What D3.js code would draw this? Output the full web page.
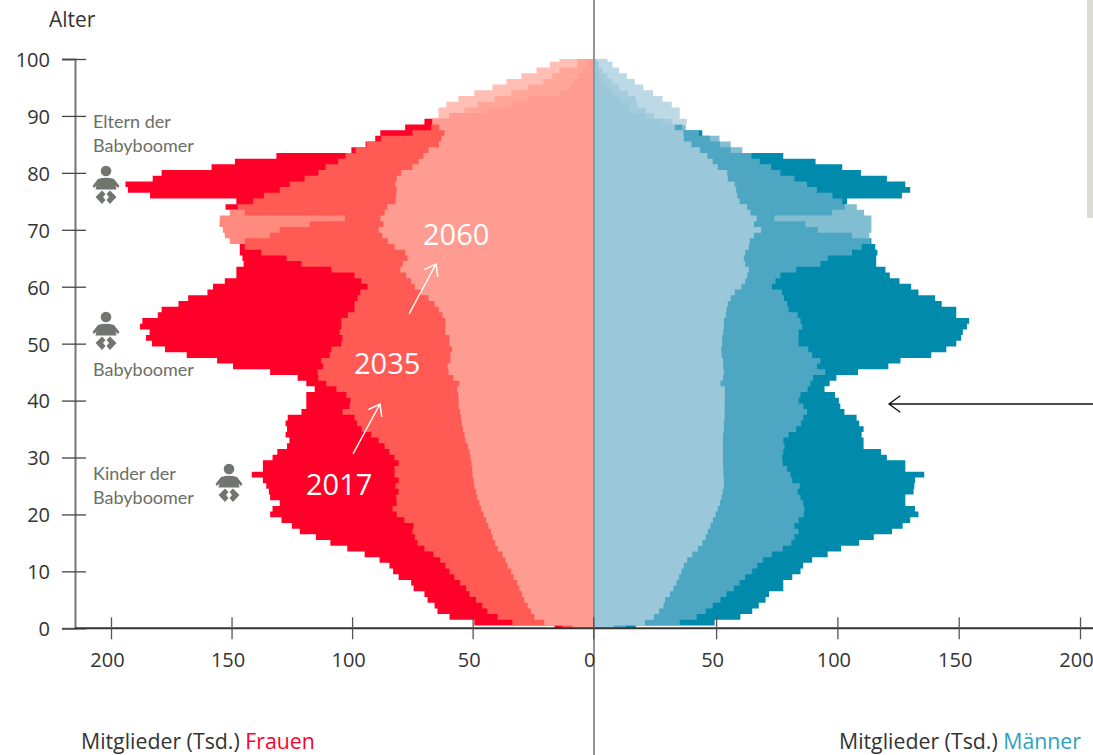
<!DOCTYPE html>
<html lang="de">
<head>
    <meta charset="UTF-8">
    <title>Alterspyramide Mitglieder</title>
<script src="https://d3js.org/d3.v7.min.js"></script>
    <style>
        body{
            margin: 0;
            background: #fff;
            overflow: hidden;
        }
        svg{
            display: block;
        }
        text{
            font-family: "Open Sans", sans-serif;
        }
        .axis text{
            font-size: 20px;
            fill: #333;
            stroke: none;
        }
        .note{
            font-family: Lato, sans-serif;
            font-size: 18px;
            fill: #6c6e66;
        }
        .year{
            font-size: 29px;
            fill: #fff;
        }
        .footer{
            font-size: 21.3px;
            fill: #333;
        }
    </style>
</head>
<body>
<svg width="1093" height="755" id="canvas"></svg>
<script>

    // values per age 0..100, in thousand members
    const ages = d3.range(0, 101);

    const frauen2017 = [16,49.3,59.6,64.6,65.8,68.7,70,74.5,75.5,80.7,
        83,84.5,88.6,94.8,102,109,115,121.7,125,129.3,
        134,133,130,134,134.5,135.6,137,141.6,137,137,
        133,131,127,126,127.6,127,127.6,126.7,121,119,
        119,119,115.5,119,122.6,134,149.4,156,168.6,177.6,
        183,185.5,184,188,187,180.6,179,172,168,160,
        157.7,152.8,148,148,145,145.5,146.6,146.6,144.5,134,
        130,117.6,103,144.5,152.5,148,183.8,193,194,182.7,
        179,158.3,148.6,131.4,100.3,94.4,90.4,88.3,78,70,
        59.6,44,34,27,14,10,8,6,4,3,2];

    const frauen2035 = [12.8,33.5,39.7,43.9,46,48.6,51.3,52.7,55.2,57.6,
        59.6,61.3,63.4,66.3,70,72.9,74,75,74.5,78.3,
        81.5,83.2,81.5,81.7,80.7,82,80.7,82.4,82.4,80.7,
        82.4,84.5,86.5,89,92,96,98,99,104,101,
        100.7,102.4,106.5,110.7,114,114.3,112,112.8,109.3,108.6,
        104.5,104,105.2,104.5,104.5,101.8,99,99,97.7,96.6,
        93.6,96.2,99,108.6,121,127.2,137.6,144.5,150.7,152.8,
        153.6,155,154.9,150.7,147.5,141,136.6,130,125.9,119.7,
        114,111,105.8,102.7,98.5,94,88,75,67.2,66.8,
        59.6,53.4,48,41,34,27.2,20.7,17,14,6.6,6.6];

    const frauen2060 = [8.6,20.3,24.4,25.8,27.2,28.6,29.5,30.6,31.6,33,
        34,35.5,36.4,37.6,39.6,40.7,41.7,42.4,43.5,44.4,
        45.5,46.5,47.2,48,48.6,49.3,49.6,50,50.2,50.5,
        50.9,51.3,52,53,53.4,54,54.5,54.8,55.2,55.8,
        55.8,56,56.4,55.5,58,60,60.4,59.2,59.2,58.5,
        59.6,59.6,61.3,61.3,61.3,62.5,64,65.8,68.3,71.4,
        74,75.5,77.6,80,79,77,78,82.4,85.2,87.5,
        89,87,88.3,86.5,85.4,82,81.7,81.5,82,81.5,
        79.6,74.9,72.4,70.4,68.3,64,63,61.7,63.8,66.7,
        64.2,64.2,60.9,55.9,49.3,41.8,36,29.8,23.5,18,14];

    const maenner2017 = [16.9,49.4,60,64.9,67.6,70.4,71.8,77.7,77.7,81.4,
        84.8,85.9,89.6,96,101.5,109,115,122.5,126.9,130,
        133.4,132,128,128,131.4,131.7,132,135.8,128,128,
        120.4,118,110.8,110.8,110,110.8,109,107.9,102.9,101.2,
        100.6,99,94.7,96.8,99.6,108.5,121,126,138.7,144.9,
        149,151,151.7,153.4,154.3,149,149,143,140.3,133.4,
        130.4,125.6,121.6,119.8,116,116,116.5,115.6,114,106,
        92,86.8,74,97.8,103,104,126.6,130,128,120.4,
        109.7,102,91,77.7,56,51.6,47.5,44.3,36,27.9,
        21,14.5,13.7,10,7.3,5.2,3.2,2,1.5,1,0.5];

    const maenner2035 = [12.8,35,42,45.7,48.6,51.8,54.3,57.3,59.7,62,
        64.9,67,69.4,73,77.5,81,82.3,84,82.3,84,
        86.1,86.4,85.9,84.8,83.6,84.5,81.4,80.7,79.3,77.5,
        77.2,77.7,78.2,77.7,79.9,83,85,85.9,87.5,86,
        84,84.8,87.7,88.9,90,95,91.6,93,89.6,88,
        84,84,84,85.5,84.8,83.6,79.9,79.3,78,77.2,
        73,74.5,76.5,83,93,96,106,110,113.6,113.2,
        114,114,114,111,108,102,98,91.6,87.5,82.3,
        76.5,72.7,68,64.6,60.8,56,51.4,42.9,37.5,32,
        24.4,21,17.6,16.9,13.7,10,7.3,5.2,3.2,1.8,1];

    const maenner2060 = [7.9,20.6,24.4,26.5,28.3,29,31,32.4,33.7,34.7,
        35.7,36.7,38.1,40.2,42.5,44.3,45.7,46.6,47.7,48.7,
        49.8,50.7,51.6,52.2,52.7,53.2,53.2,53,53,52.8,
        52.8,52.8,52.8,52.8,52.9,53.2,53.2,53.5,53.5,53.5,
        53.6,53.6,53.6,51.8,52.8,53.2,52.9,52.9,52.3,52.1,
        52.5,52.5,52.9,53.2,53.2,54,54.3,54.8,56,57.7,
        60.4,62,62.8,63.5,62,61.4,62,63.5,63.9,65.6,
        68.6,65.6,66.7,64.2,62.8,59.7,58.7,58.3,57.7,54.8,
        54.6,50.7,48.6,46.4,43.4,39.8,36.7,36.5,33,37.9,
        35,35,31.7,27.9,24,20,16.5,13.2,10,7.3,5.2];

    const xTicks = [200, 150, 100, 50, 0];
    const yTicks = d3.range(0, 101, 10);

    let svg = d3.select("svg");

    let yScale = d3.scaleLinear().domain([0, 100]).range([628.3, 59]);
    let xLeft = d3.scaleLinear().domain([0, 200]).range([593.2, 111]);
    let xRight = d3.scaleLinear().domain([0, 200]).range([594.8, 1080]);

    // grey strip at the right edge and the centre line, both behind the pyramid
    svg.append("rect").attr("x", 1087).attr("y", 0).attr("width", 6).attr("height", 218).attr("fill", "#dcdcd6");
    svg.append("line").attr("x1", 594).attr("x2", 594).attr("y1", 0).attr("y2", 755)
        .attr("stroke", "#8a8a8a").attr("stroke-width", 1.8);

    // one stepped area per series, every age is a band from age-.5 to age+.5 (clamped to the axis)
    function pyramid(values, scale, color, opacity) {
        let rows = ages.flatMap(function (a) {
            return [
                {age: Math.max(a - .5, 0), value: values[a]},
                {age: Math.min(a + .5, 100), value: values[a]}
            ];
        });
        let area = d3.area()
            .y(function (d) { return yScale(d.age); })
            .x0(scale(0))
            .x1(function (d) { return scale(d.value); });
        svg.append("path")
            .datum(rows)
            .attr("d", area)
            .attr("fill", color)
            .attr("fill-opacity", opacity);
    }

    pyramid(frauen2017, xLeft, "rgb(255,0,40)", 1);
    pyramid(frauen2035, xLeft, "rgb(255,111,95)", .81);
    pyramid(frauen2060, xLeft, "rgb(255,174,161)", .79);
    pyramid(maenner2017, xRight, "rgb(0,139,173)", 1);
    pyramid(maenner2035, xRight, "rgb(97,174,199)", .8);
    pyramid(maenner2060, xRight, "rgb(174,207,224)", .8);

    // Y axis
    let yAxis = d3.axisLeft(yScale).tickValues(yTicks).tickSize(13).tickPadding(12);
    let yG = svg.append("g").attr("class", "axis").attr("transform", "translate(75,0)").call(yAxis);
    yG.select(".domain").attr("stroke", "#777").attr("stroke-width", 2);
    yG.selectAll(".tick line").attr("x2", 11).attr("x1", -13).attr("stroke", "#444").attr("stroke-width", 1.3);
    yG.selectAll(".tick text").attr("x", -25).attr("y", 1);

    // X axes, share one line along the bottom
    svg.append("line").attr("x1", 75).attr("x2", 1093).attr("y1", 628.3).attr("y2", 628.3)
        .attr("stroke", "#333").attr("stroke-width", 2);

    function bottomAxis(scale, values) {
        let axis = d3.axisBottom(scale).tickValues(values).tickSize(11).tickPadding(14);
        let g = svg.append("g").attr("class", "axis").attr("transform", "translate(0,628.3)").call(axis);
        g.select(".domain").remove();
        g.selectAll(".tick line").attr("y1", -11).attr("stroke", "#555").attr("stroke-width", 1.3);
        g.selectAll(".tick text").attr("dx", -4).attr("y", 25);
    }
    bottomAxis(xLeft, xTicks);
    bottomAxis(xRight, [50, 100, 150, 200]);

    svg.append("text").attr("x", 49).attr("y", 27).attr("font-size", 21).attr("fill", "#333").text("Alter");

    // annotations on the left
    function note(x, y, label) {
        svg.append("text").attr("class", "note").attr("x", x).attr("y", y).text(label);
    }
    note(93, 128, "Eltern der");
    note(93, 152, "Babyboomer");
    note(93, 376, "Babyboomer");
    note(93, 480, "Kinder der");
    note(93, 504, "Babyboomer");

    function baby(x, y) {
        let g = svg.append("g").attr("transform", `translate(${x},${y})`).attr("fill", "#72756f");
        g.append("circle").attr("r", 5.3);
        g.append("path").attr("d", "M-13.5,15 L-8,8 Q0,5.5 8,8 L13.5,15 L12,17 L9.5,14.5 L10.5,18.5 L-10.5,18.5 L-9.5,14.5 L-12,17 Z");
        g.append("path").attr("d", "M-10.5,26 L-4,19.5 L-.5,23 L-3,26 L-.5,29 L-4,33 Z");
        g.append("path").attr("d", "M10.5,26 L4,19.5 L.5,23 L3,26 L.5,29 L4,33 Z");
    }
    baby(106, 171);
    baby(106, 317);
    baby(229, 469);

    // year labels and arrows
    function year(x, y, label) {
        svg.append("text").attr("class", "year").attr("x", x).attr("y", y).text(label);
    }
    year(423, 245, "2060");
    year(354, 374, "2035");
    year(306, 495, "2017");

    function arrow(x1, y1, x2, y2, color, head, width) {
        let angle = Math.atan2(y2 - y1, x2 - x1);
        let a1 = angle + Math.PI * .8;
        let a2 = angle - Math.PI * .8;
        let path = d3.path();
        path.moveTo(x1, y1);
        path.lineTo(x2, y2);
        path.moveTo(x2 + head * Math.cos(a1), y2 + head * Math.sin(a1));
        path.lineTo(x2, y2);
        path.lineTo(x2 + head * Math.cos(a2), y2 + head * Math.sin(a2));
        svg.append("path").attr("d", path.toString()).attr("fill", "none")
            .attr("stroke", color).attr("stroke-width", width);
    }
    arrow(409, 314, 436, 264, "#fff", 13, 1.5);
    arrow(353, 454, 380, 404, "#fff", 13, 1.5);
    arrow(1093, 404, 889, 404, "#111", 14, 1.3);

    // footers
    let frauenLabel = svg.append("text").attr("class", "footer").attr("x", 81).attr("y", 749);
    frauenLabel.append("tspan").text("Mitglieder (Tsd.) ");
    frauenLabel.append("tspan").attr("fill", "#ff0028").text("Frauen");
    let maennerLabel = svg.append("text").attr("class", "footer").attr("x", 839).attr("y", 749);
    maennerLabel.append("tspan").text("Mitglieder (Tsd.) ");
    maennerLabel.append("tspan").attr("fill", "#2e9fbd").text("Männer");

</script>
</body>
</html>
